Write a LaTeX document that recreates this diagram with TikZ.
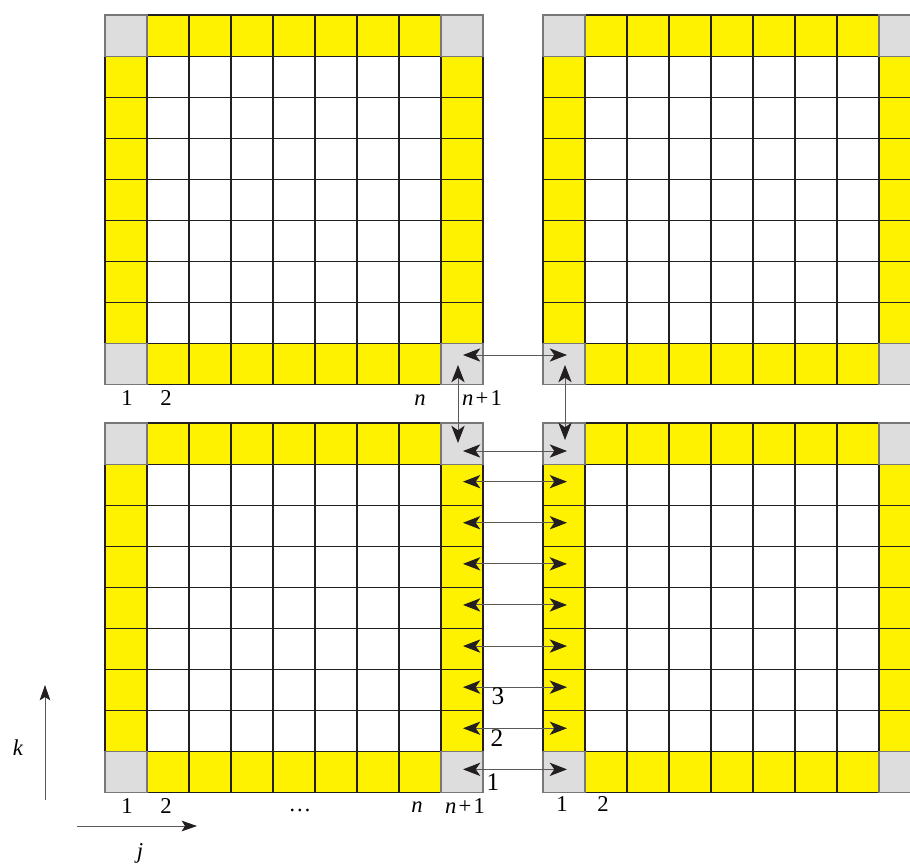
\documentclass[tikz,border=0pt]{standalone}
\usepackage{fontspec}
\setmainfont{Liberation Serif}
\usetikzlibrary{arrows.meta}
\definecolor{cyel}{RGB}{255,242,0}
\definecolor{cgray}{RGB}{221,221,221}
\definecolor{cline}{RGB}{35,31,32}
\definecolor{cedge}{RGB}{120,120,120}
\newcommand\mygrid[2]{%
  % #1 = x0, #2 = y0
  \fill[cyel] (#1,#2) rectangle ++(9*42,9*41.1);
  \fill[white] (#1+42,#2+41.1) rectangle ++(7*42,7*41.1);
  \foreach \cx/\cy in {0/0,8/0,0/8,8/8}
    \fill[cgray] (#1+\cx*42,#2+\cy*41.1) rectangle ++(42,41.1);
  \foreach \k in {0,...,9} {
    \draw[gridline] (#1+\k*42,#2) -- ++(0,9*41.1);
    \draw[gridline] (#1,#2+\k*41.1) -- ++(9*42,0);
  }
  \foreach \cx/\cy in {0/0,8/0,0/8,8/8}
    \draw[cornerline] (#1+\cx*42,#2+\cy*41.1) rectangle ++(42,41.1);
}
\newcommand\nplusone{\textit{n}\hspace{0.1em}+\hspace{0.1em}1}
\begin{document}
\begin{tikzpicture}[x=0.75pt,y=-0.75pt,
  gridline/.style={draw=cline,line width=0.8pt},
  cornerline/.style={draw=cedge,line width=0.8pt},
  dbl/.style={{Stealth[length=13pt,width=10pt,inset=3.5pt,color=cline]}-{Stealth[length=13pt,width=10pt,inset=3.5pt,color=cline]},draw=black!65,line width=0.7pt},
  axis/.style={-{Stealth[length=11.5pt,width=8pt,inset=2.5pt,color=cline]},draw=black!65,line width=0.7pt},
  lbl/.style={inner sep=0pt,font=\fontsize{17}{20}\selectfont},
  albl/.style={inner sep=0pt,font=\fontsize{19}{21}\selectfont}]
\useasboundingbox (0,0) rectangle (910,864);
\clip (0,0) rectangle (910,864);
\fill[white] (0,0) rectangle (910,864);

\mygrid{105}{15}
\mygrid{543}{15}
\mygrid{105}{423}
\mygrid{543}{423}

% arrow end points
\coordinate (tL) at (463,355);
\coordinate (tR) at (567,355);
\coordinate (vL1) at (458,365);
\coordinate (vL2) at (458,443);
\coordinate (vR1) at (565,365);
\coordinate (vR2) at (565,440);
\coordinate (bL0) at (463,451);
\coordinate (bR0) at (567,451);
\foreach \r in {1,...,8} {
  \coordinate (bL\r) at (463,{423+(\r+0.5)*41.1-3});
  \coordinate (bR\r) at (567,{423+(\r+0.5)*41.1-3});
}

\draw[dbl] (tL) -- (tR);
\draw[dbl] (vL1) -- (vL2);
\draw[dbl] (vR1) -- (vR2);
\foreach \r in {0,...,8}
  \draw[dbl] (bL\r) -- (bR\r);

% labels
\node[lbl] (t1) at (127,398) {1};
\node[lbl] (t2) at (166,398) {2};
\node[lbl] (tn) at (420,400) {\textit{n}};
\node[lbl] (tn1) at (482,398) {\nplusone};

\node[lbl] (b1) at (127,806) {1};
\node[lbl] (b2) at (166,806) {2};
\node[lbl] (bdots) at (300,810) {\dots};
\node[lbl] (bn) at (417,807) {\textit{n}};
\node[lbl] (bn1) at (465,806) {\nplusone};
\node[lbl] (r1) at (562,804) {1};
\node[lbl] (r2) at (603,804) {2};

\node[albl] (l3) at (498,696) {3};
\node[albl] (l2) at (497,738) {2};
\node[albl] (l1) at (493,782) {1};

% axes
\coordinate (ka) at (45,800);
\coordinate (kb) at (45,685);
\draw[axis] (ka) -- (kb);
\node[lbl] (k) at (18,748) {\textit{k}};
\coordinate (ja) at (77,826);
\coordinate (jb) at (197,826);
\draw[axis] (ja) -- (jb);
\node[lbl] (j) at (140,853) {\textit{j}};
\end{tikzpicture}
\end{document}
